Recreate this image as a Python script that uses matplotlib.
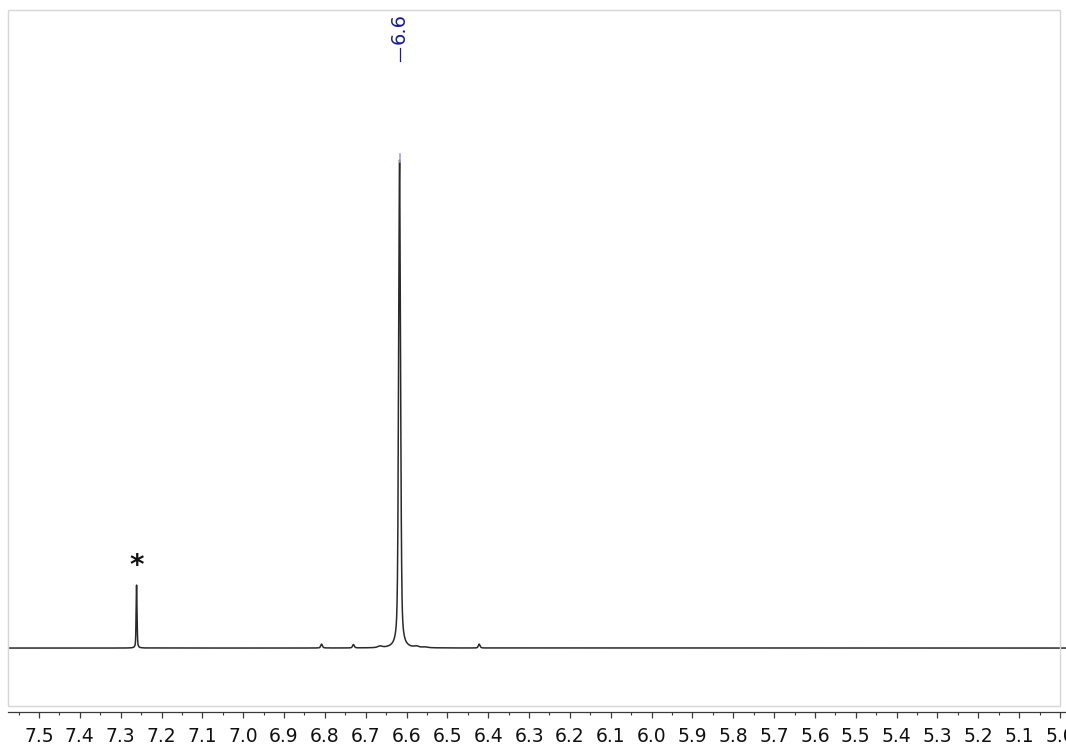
import numpy as np
import matplotlib
matplotlib.use("Agg")
import matplotlib.pyplot as plt
from matplotlib.patches import Rectangle
from matplotlib.ticker import MultipleLocator, FormatStrFormatter
import matplotlib.transforms as mtransforms

# Peak list (chemical shift in ppm, relative intensity, half-width in ppm)
peak_shifts = [6.617, 7.261, 6.808, 6.730, 6.665, 6.422, 6.575, 6.555]
peak_heights = [100.0, 12.9, 0.8, 0.7, 0.3, 0.8, 0.25, 0.15]
peak_widths = [0.0028, 0.0013, 0.0025, 0.0025, 0.006, 0.0025, 0.006, 0.008]
lorentz_fraction = 0.45

# Labelled peak and solvent residual marker
labelled_shift = 6.617
solvent_shift = 7.261
solvent_mark = "*"

# Axis range (ppm)
ppm_left, ppm_right = 7.5759, 4.9853

W, H = 1066, 751
fig = plt.figure(figsize=(W / 100, H / 100), dpi=100)
fig.patch.set_facecolor("white")

ax_bottom_px, ax_top_px = 712, 10
ax = fig.add_axes([8 / W, (H - ax_bottom_px) / H, 1 - 8 / W,
                   (ax_bottom_px - ax_top_px) / H])

ppm = np.linspace(ppm_right, ppm_left, 26000)
spectrum = np.zeros_like(ppm)
for s, h, w in zip(peak_shifts, peak_heights, peak_widths):
    lor = w ** 2 / ((ppm - s) ** 2 + w ** 2)
    gau = np.exp(-np.log(2) * ((ppm - s) / w) ** 2)
    spectrum += h * (lorentz_fraction * lor + (1 - lorentz_fraction) * gau)

ax.plot(ppm, spectrum, color="#2a2a2a", lw=1.1, solid_joinstyle="round")

ax.set_xlim(ppm_left, ppm_right)
ax.set_ylim(-13.1, 130.7)

for side in ("left", "right", "top"):
    ax.spines[side].set_visible(False)
ax.spines["bottom"].set_color("#3a3a3a")
ax.spines["bottom"].set_linewidth(0.9)
ax.set_yticks([])
ax.xaxis.set_major_locator(MultipleLocator(0.1))
ax.xaxis.set_minor_locator(MultipleLocator(0.05))
ax.xaxis.set_major_formatter(FormatStrFormatter("%.1f"))
ax.tick_params(axis="x", which="major", direction="out", length=4.0,
               width=0.9, color="#3a3a3a", labelsize=13.5, pad=7,
               labelcolor="#111111")
ax.tick_params(axis="x", which="minor", direction="out", length=2.2,
               width=0.8, color="#3a3a3a")

# Light frame around the spectrum area
fig.patches.append(Rectangle((8 / W, (H - 706) / H), 1052 / W, 696 / H,
                             transform=fig.transFigure, fill=False,
                             edgecolor="#d6d6d6", lw=1.0, zorder=0))

# Peak label with leader line
blend = mtransforms.blended_transform_factory(ax.transData, fig.transFigure)
ax.text(labelled_shift, (H - 13) / H, f"{labelled_shift:.1f}",
        rotation=90, ha="center", va="top", fontsize=14,
        color="#1c1c8e", transform=blend)
ax.plot([labelled_shift, labelled_shift], [(H - 48) / H, (H - 61) / H],
        color="#1c1c8e", lw=0.9, transform=blend, clip_on=False)
top = max(peak_heights)
ax.plot([labelled_shift, labelled_shift], [top - 0.4, top + 1.2],
        color="#a0a0e0", lw=1.2)

# Solvent residual marker
ax.text(solvent_shift, 14.0, solvent_mark, ha="center", va="bottom",
        fontsize=20, fontweight="bold", color="#111111")

fig.savefig("out.png", dpi=100)
